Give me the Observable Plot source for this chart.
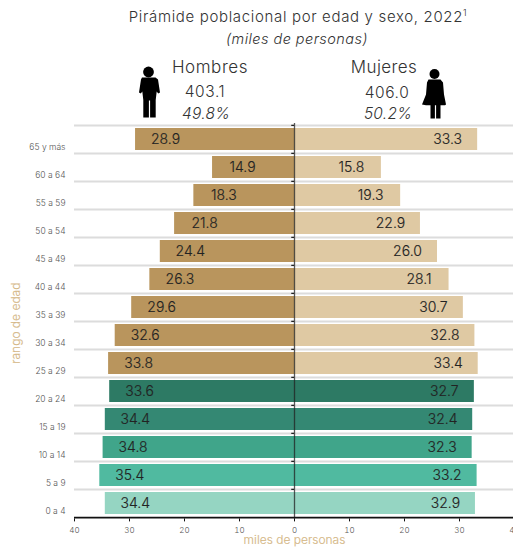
<!DOCTYPE html>
<html><head><meta charset="utf-8">
<script src="https://cdn.jsdelivr.net/npm/d3@7"></script>
<script src="https://cdn.jsdelivr.net/npm/@observablehq/plot@0.6"></script>
<style>
html,body{margin:0;padding:0;background:#fff;overflow:hidden}
body{width:513px;height:548px;font-family:Inter,"Noto Sans",sans-serif;font-weight:300;color:#333}
#head{position:relative;width:513px;height:118px}
#head span{position:absolute;transform:translate(-50%,-50%);white-space:nowrap}
#head svg{position:absolute;left:0;top:0}
sup{font-size:9px;line-height:0}
svg{display:block}
</style></head><body>
<div id="head">
<svg width="513" height="122" fill="#000">
<circle cx="148.5" cy="72" r="5.4"/>
<path d="M142 77.5h13.5l2.5 2 2 13-1.8 1-1.5-2-1 8.5v17.5h-5.6v-17h-1.2v17h-5.6v-17.5l-1-8.5-1.5 2-1.8-1 2-13z"/>
<circle cx="434.5" cy="74" r="5"/>
<path d="M428.5 79.5h12l2.5 3 1 12 2 10-1 .7h-4.5v13.3h-4.4v-13.3h-1.2v13.3h-4.4v-13.3h-4.5l-4-.7 4-10 1-12z"/>
</svg>
<span style="left:298px;top:16px;font-size:15px;letter-spacing:.66px">Pirámide poblacional por edad y sexo, 2022<sup>1</sup></span>
<span style="left:297px;top:38px;font-size:14.5px;font-style:italic;letter-spacing:.45px">(miles de personas)</span>
<span style="left:210px;top:67px;font-size:17px;letter-spacing:.55px">Hombres</span>
<span style="left:205px;top:91px;font-size:15.5px;letter-spacing:.6px">403.1</span>
<span style="left:206px;top:113px;font-size:15.5px;font-style:italic;letter-spacing:.3px">49.8%</span>
<span style="left:384px;top:67px;font-size:17px;letter-spacing:.4px">Mujeres</span>
<span style="left:387px;top:92px;font-size:15.5px;letter-spacing:.6px">406.0</span>
<span style="left:388px;top:113px;font-size:15.5px;font-style:italic;letter-spacing:.3px">50.2%</span>
</div>
<div id="chart"></div>
<script>
const ages = ["65 y más","60 a 64","55 a 59","50 a 54","45 a 49","40 a 44","35 a 39","30 a 34","25 a 29","20 a 24","15 a 19","10 a 14","5 a 9","0 a 4"];
const hombres = [28.9,14.9,18.3,21.8,24.4,26.3,29.6,32.6,33.8,33.6,34.4,34.8,35.4,34.4];
const mujeres = [33.3,15.8,19.3,22.9,26.0,28.1,30.7,32.8,33.4,32.7,32.4,32.3,33.2,32.9];
const xTicks = [-40,-30,-20,-10,0,10,20,30,40];
const youngAges = ["20 a 24","15 a 19","10 a 14","5 a 9","0 a 4"];
const youngColors = ["#2d7a64","#348873","#40a58a","#50baa0","#95d5c2"];
const tanH = "#b9955d", tanM = "#dfc9a3";

const group = (age, sexo) => youngAges.includes(age) ? age : sexo;
const rows = ages.flatMap((age,i) => [
  {age, sexo:"H", val:hombres[i], x:-hombres[i], g:group(age,"H")},
  {age, sexo:"M", val:mujeres[i], x:mujeres[i], g:group(age,"M")}
]);
const step = 395.4/14;
const ink = "#555";
const font = "Inter, 'Noto Sans', sans-serif";
const plot = Plot.plot({
  width:513, height:430, marginTop:5, marginBottom:29.6, marginLeft:74, marginRight:-1,
  style:{fontFamily:font, background:"transparent", overflow:"visible"},
  x:{domain:[-40,40]},
  y:{domain:ages, paddingInner:0.23, paddingOuter:0.115, label:null},
  color:{domain:["H","M",...youngAges], range:[tanH,tanM,...youngColors]},
  marks:[
    Plot.ruleY(ages,{y:d=>d, dy:-step/2, x1:-40, x2:40, stroke:"#dcdcdc", strokeWidth:2}),
    Plot.barX(rows,{x1:0, x2:"x", y:"age", fill:"g"}),
    Plot.ruleX([0],{stroke:"#222", strokeOpacity:.75, strokeWidth:1.3}),
    Plot.ruleY(ages,{y:d=>d, dy:-step/2, x1:-0.5, x2:0, stroke:"#222", strokeWidth:1.3}),
    Plot.ruleY(ages.slice(-1),{y:d=>d, dy:step/2, x1:-40, x2:40, stroke:"#111", strokeWidth:1.6}),
    Plot.text(rows.filter(d=>d.sexo==="H"),{x:"x", y:"age", text:d=>d.val.toFixed(1), dx:30, fontSize:14, fontWeight:300, fill:"#222", stroke:"#222", strokeWidth:.15}),
    Plot.text(rows.filter(d=>d.sexo==="M"),{x:"x", y:"age", text:d=>d.val.toFixed(1), dx:-30, fontSize:14, fontWeight:300, fill:"#222", stroke:"#222", strokeWidth:.15}),
    Plot.axisX({ticks:xTicks, tickFormat:d=>Math.abs(d), tickSize:3, tickPadding:5, fontSize:8, stroke:"#111", fill:ink, label:null, anchor:"bottom"}),
    Plot.axisY({tickSize:0, tickPadding:9, fontSize:8.5, fill:ink, dy:7.5, label:null}),
    Plot.text(["miles de personas"],{frameAnchor:"bottom", dy:25.5, fontSize:12, fontWeight:300, fill:"#d4b684", stroke:"#d4b684", strokeWidth:.15, textAnchor:"middle"}),
    Plot.text(["rango de edad"],{frameAnchor:"left", rotate:-90, dx:-58, dy:2, fontSize:12, fontWeight:300, fill:"#d4b684", stroke:"#d4b684", strokeWidth:.15, textAnchor:"middle"})
  ]
});
document.getElementById("chart").append(plot);
</script>
</body></html>
